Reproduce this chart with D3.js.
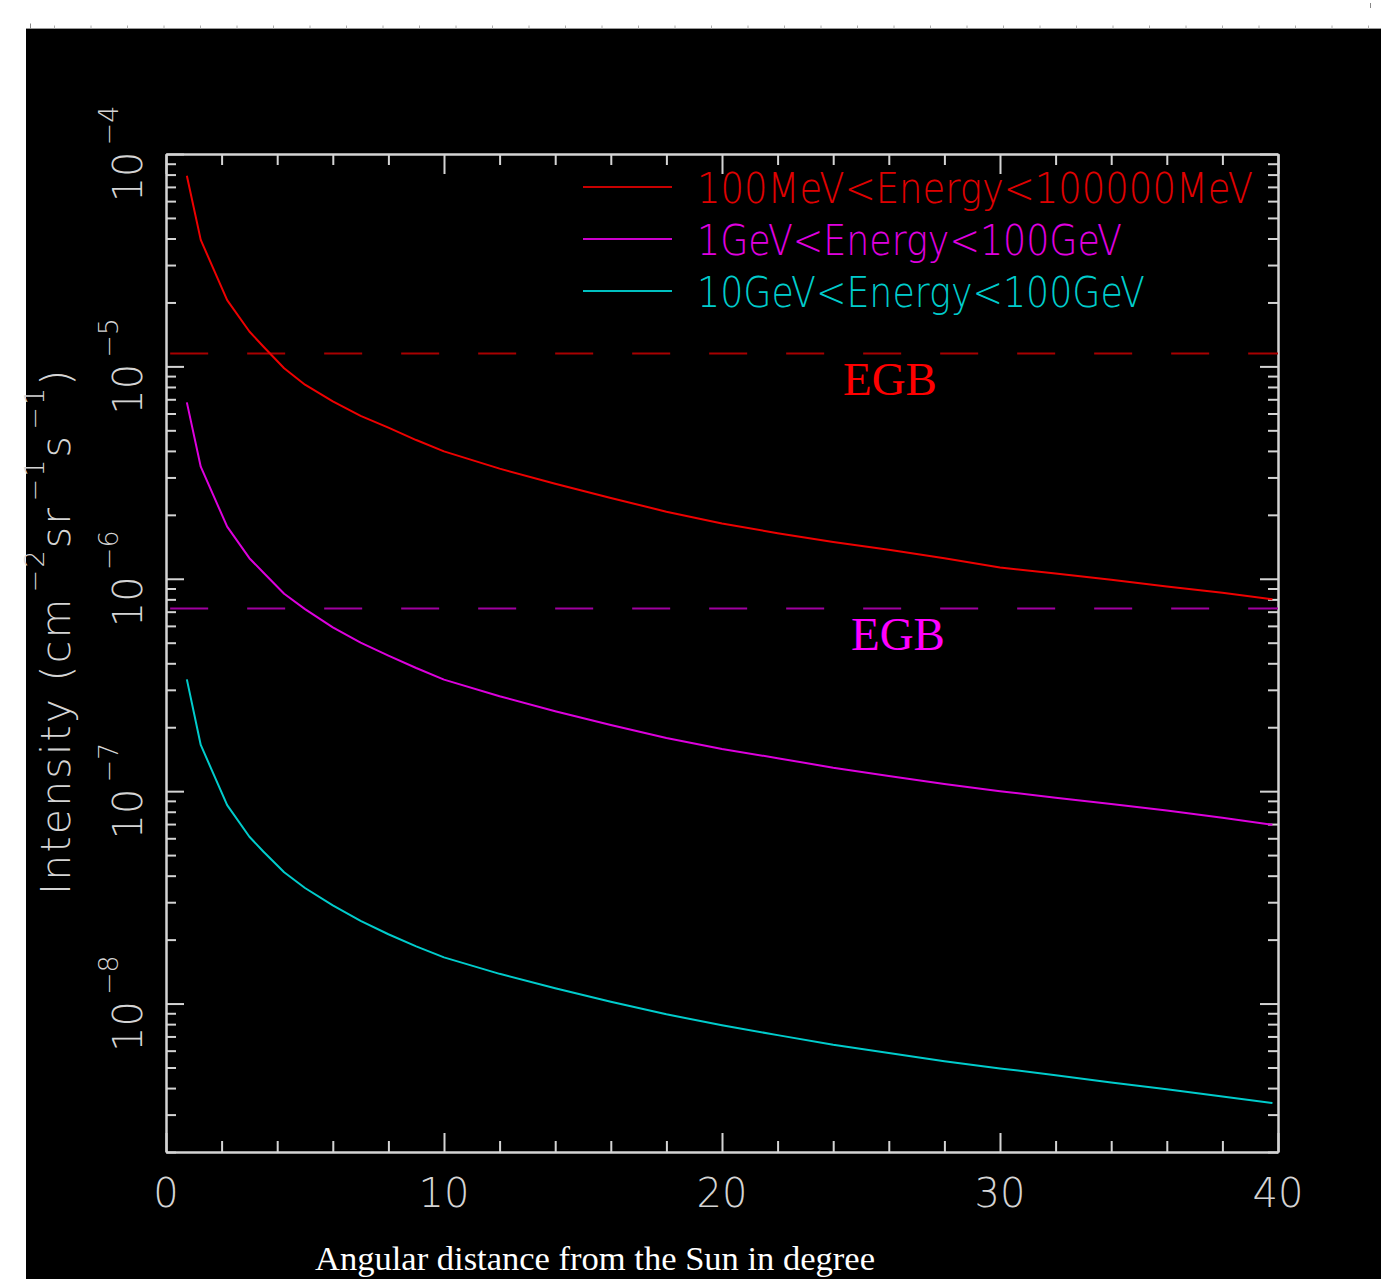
<!DOCTYPE html>
<html>
<head>
<meta charset="utf-8">
<script src="https://cdn.jsdelivr.net/npm/d3@7"></script>
<style>
  html, body { margin: 0; padding: 0; background: #ffffff; }
  svg { display: block; }
</style>
</head>
<body>
<svg id="chart" width="1381" height="1279"></svg>
<script>
// ---------------- data ----------------
const angles = [0.75, 1.25, 2.2, 3, 3.5, 4.25, 5, 6, 7, 8, 9, 10, 12, 14, 16, 18, 20, 22, 24, 26, 28, 30, 32, 34, 36, 38, 39.8];
const intensity100MeV = [7.9e-5, 3.94e-5, 2.05e-5, 1.46e-5, 1.24e-5, 9.8e-6, 8.2e-6, 6.85e-6, 5.85e-6, 5.15e-6, 4.5e-6, 3.98e-6,
  3.3e-6, 2.8e-6, 2.4e-6, 2.07e-6, 1.82e-6, 1.64e-6, 1.49e-6, 1.37e-6, 1.25e-6, 1.13e-6, 1.06e-6, 0.99e-6, 0.92e-6, 0.86e-6, 0.80e-6];
const intensity1GeV = [6.77e-6, 3.37e-6, 1.76e-6, 1.25e-6, 1.07e-6, 8.5e-7, 7.2e-7, 5.9e-7, 5.0e-7, 4.35e-7, 3.8e-7, 3.35e-7,
  2.8e-7, 2.38e-7, 2.05e-7, 1.78e-7, 1.58e-7, 1.43e-7, 1.29e-7, 1.18e-7, 1.08e-7, 1.0e-7, 9.3e-8, 8.7e-8, 8.1e-8, 7.5e-8, 6.95e-8];
const intensity10GeV = [3.36e-7, 1.65e-7, 8.6e-8, 6.1e-8, 5.2e-8, 4.15e-8, 3.5e-8, 2.9e-8, 2.45e-8, 2.12e-8, 1.86e-8, 1.65e-8,
  1.38e-8, 1.18e-8, 1.02e-8, 8.9e-9, 7.9e-9, 7.1e-9, 6.4e-9, 5.85e-9, 5.35e-9, 4.95e-9, 4.6e-9, 4.25e-9, 3.95e-9, 3.65e-9, 3.4e-9];
const seriesNames = ["100MeV<Energy<100000MeV", "1GeV<Energy<100GeV", "10GeV<Energy<100GeV"];
const egbLevels = [1.15e-5, 7.25e-7];
const egbLabels = ["EGB", "EGB"];
const xTickLabels = ["0", "10", "20", "30", "40"];
const xMajorTicks = [0, 10, 20, 30, 40];
const yMajorTicks = [1e-8, 1e-7, 1e-6, 1e-5, 1e-4];
const yTickExponents = ["−8", "−7", "−6", "−5", "−4"];

// ---------------- setup ----------------
const svg = d3.select("#chart");
const W = 1381, H = 1279;
const pLeft = 166, pRight = 1278, pTop = 154, pBottom = 1152;
const axisColor = "#d4d4d4";
const hershey = "'DejaVu Sans', 'Liberation Sans', sans-serif";

const x = d3.scaleLinear().domain([0, 40]).range([pLeft, pRight]);
const y = d3.scaleLog().domain([2e-9, 1e-4]).range([pBottom, pTop]);

// white page with black plotting card
svg.append("rect").attr("x", 0).attr("y", 0).attr("width", W).attr("height", H).attr("fill", "#ffffff");
svg.append("rect").attr("x", 26).attr("y", 28.5).attr("width", W - 26).attr("height", H - 28.5).attr("fill", "#000000");
// faint ruler along the top edge of the card
svg.append("line").attr("x1", 26).attr("x2", W).attr("y1", 28.5).attr("y2", 28.5)
  .attr("stroke", "#9a9a9a").attr("stroke-width", 1);
svg.append("g").selectAll("line").data(d3.range(54.5, W, 36.5)).join("line")
  .attr("x1", d => d).attr("x2", d => d).attr("y1", 25.5).attr("y2", 28.5)
  .attr("stroke", "#b0b0b0").attr("stroke-width", 1);
svg.append("line").attr("x1", 30.5).attr("x2", 30.5).attr("y1", 23.5).attr("y2", 28.5)
  .attr("stroke", "#888").attr("stroke-width", 1);
svg.append("line").attr("x1", 1370.5).attr("x2", 1370.5).attr("y1", 3).attr("y2", 8)
  .attr("stroke", "#888").attr("stroke-width", 1);

// ---------------- axes ----------------
const yMinorTicks = [];
for (let e = -9; e <= -5; e++) {
  for (let m = 2; m <= 9; m++) {
    const v = m * Math.pow(10, e);
    if (v >= 2e-9 && v < 1e-4) yMinorTicks.push(v);
  }
}
const xMinorTicks = d3.range(2, 40, 2).filter(v => v % 10 !== 0);

function styleAxis(g) {
  g.selectAll("path.domain").attr("stroke", axisColor).attr("stroke-width", 2);
  g.selectAll(".tick line").attr("stroke", axisColor).attr("stroke-width", 2);
  g.selectAll(".tick text").remove();
}

// left
svg.append("g").attr("transform", `translate(${pLeft},0)`)
  .call(d3.axisLeft(y).tickValues(yMajorTicks).tickSizeInner(-18).tickSizeOuter(0).tickFormat(""))
  .call(styleAxis);
svg.append("g").attr("transform", `translate(${pLeft},0)`)
  .call(d3.axisLeft(y).tickValues(yMinorTicks).tickSizeInner(-10).tickSizeOuter(0).tickFormat(""))
  .call(styleAxis);
// right
svg.append("g").attr("transform", `translate(${pRight},0)`)
  .call(d3.axisRight(y).tickValues(yMajorTicks).tickSizeInner(-18).tickSizeOuter(0).tickFormat(""))
  .call(styleAxis);
svg.append("g").attr("transform", `translate(${pRight},0)`)
  .call(d3.axisRight(y).tickValues(yMinorTicks).tickSizeInner(-10).tickSizeOuter(0).tickFormat(""))
  .call(styleAxis);
// bottom
svg.append("g").attr("transform", `translate(0,${pBottom})`)
  .call(d3.axisBottom(x).tickValues(xMajorTicks).tickSizeInner(-19).tickSizeOuter(0).tickFormat(""))
  .call(styleAxis);
svg.append("g").attr("transform", `translate(0,${pBottom})`)
  .call(d3.axisBottom(x).tickValues(xMinorTicks).tickSizeInner(-11).tickSizeOuter(0).tickFormat(""))
  .call(styleAxis);
// top
svg.append("g").attr("transform", `translate(0,${pTop})`)
  .call(d3.axisTop(x).tickValues(xMajorTicks).tickSizeInner(-20).tickSizeOuter(0).tickFormat(""))
  .call(styleAxis);
svg.append("g").attr("transform", `translate(0,${pTop})`)
  .call(d3.axisTop(x).tickValues(xMinorTicks).tickSizeInner(-11).tickSizeOuter(0).tickFormat(""))
  .call(styleAxis);

// x tick labels
svg.append("g").selectAll("text").data(xMajorTicks).join("text")
  .attr("x", d => x(d)).attr("y", pBottom + 55)
  .attr("text-anchor", "middle")
  .attr("font-family", hershey).attr("font-weight", 200)
  .attr("font-size", 40).attr("fill", axisColor)
  .text((d, i) => xTickLabels[i]);

// y tick labels (rotated, 10 with superscript exponent)
const yl = svg.append("g").selectAll("text").data(yMajorTicks).join("text")
  .attr("transform", d => `translate(142,${y(d)}) rotate(-90)`)
  .attr("text-anchor", "middle")
  .attr("font-family", hershey).attr("font-weight", 200)
  .attr("font-size", 40).attr("fill", axisColor);
yl.append("tspan").text("10");
yl.append("tspan").attr("dx", 6).attr("dy", -24).attr("font-size", 27).text((d, i) => yTickExponents[i]);

// ---------------- EGB dashed lines ----------------
const egbColors = ["#a80000", "#a000a0"];
const egbTextColors = ["#ff0000", "#ff00ff"];
svg.append("g").selectAll("line").data(egbLevels).join("line")
  .attr("x1", x(0.15)).attr("x2", x(40))
  .attr("y1", d => y(d)).attr("y2", d => y(d))
  .attr("stroke", (d, i) => egbColors[i]).attr("stroke-width", 2)
  .attr("stroke-dasharray", "38,39");
svg.append("g").selectAll("text").data(egbLevels).join("text")
  .attr("x", (d, i) => x(24.35) + i * 8).attr("y", d => y(d) + 42)
  .attr("font-family", "'Liberation Serif', 'Times New Roman', serif")
  .attr("font-size", 47).attr("fill", (d, i) => egbTextColors[i])
  .text((d, i) => egbLabels[i]);

// ---------------- curves ----------------
const curveColors = ["#ee0000", "#dd00dd", "#00cccc"];
const legendLineColors = ["#c80000", "#cc00cc", "#00c0c0"];
const legendTextColors = ["#e00000", "#e000e0", "#00cccc"];
const seriesValues = [intensity100MeV, intensity1GeV, intensity10GeV];
const line = d3.line().x(d => x(d[0])).y(d => y(d[1]));
svg.append("g").selectAll("path").data(seriesValues).join("path")
  .attr("d", vals => line(angles.map((a, i) => [a, vals[i]])))
  .attr("fill", "none")
  .attr("stroke", (d, i) => curveColors[i])
  .attr("stroke-width", 2)
  .attr("stroke-linejoin", "round");

// ---------------- legend ----------------
const legendWidths = [556, 425, 448];
const lg = svg.append("g").selectAll("g").data(seriesNames).join("g")
  .attr("transform", (d, i) => `translate(583,${187 + i * 52})`);
lg.append("line").attr("x1", 0).attr("x2", 89).attr("y1", 0).attr("y2", 0)
  .attr("stroke", (d, i) => legendLineColors[i]).attr("stroke-width", 2);
lg.append("text").attr("x", 114).attr("y", 16)
  .attr("font-family", hershey).attr("font-weight", 200)
  .attr("font-size", 42)
  .attr("textLength", (d, i) => legendWidths[i]).attr("lengthAdjust", "spacingAndGlyphs")
  .attr("fill", (d, i) => legendTextColors[i])
  .text(d => d);

// ---------------- axis titles ----------------
svg.append("text")
  .attr("x", 315).attr("y", 1270)
  .attr("font-family", "'Liberation Serif', 'Times New Roman', serif")
  .attr("font-size", 33).attr("fill", "#ffffff")
  .attr("textLength", 560).attr("lengthAdjust", "spacingAndGlyphs")
  .text("Angular distance from the Sun in degree");

const yt = svg.append("text")
  .attr("transform", "translate(70,895) rotate(-90)")
  .attr("font-family", hershey).attr("font-weight", 200)
  .attr("font-size", 41).attr("letter-spacing", 2.2).attr("fill", axisColor);
yt.append("tspan").text("Intensity (cm");
yt.append("tspan").attr("dx", 4).attr("dy", -26).attr("font-size", 27).text("−2");
yt.append("tspan").attr("dy", 26).text("sr");
yt.append("tspan").attr("dx", 4).attr("dy", -26).attr("font-size", 27).text("−1");
yt.append("tspan").attr("dy", 26).text("s");
yt.append("tspan").attr("dx", 4).attr("dy", -26).attr("font-size", 27).text("−1");
yt.append("tspan").attr("dy", 26).text(")");
</script>
</body>
</html>
